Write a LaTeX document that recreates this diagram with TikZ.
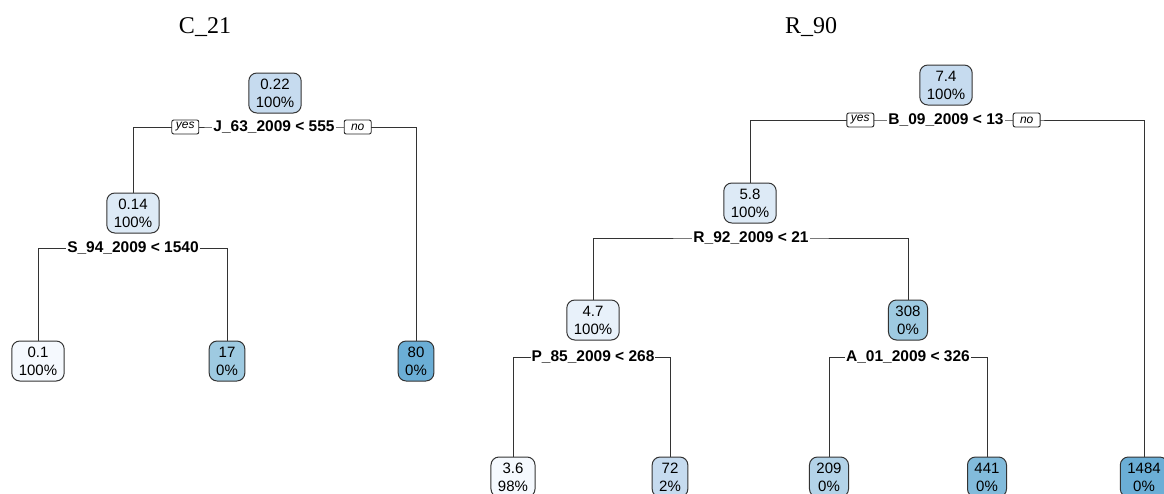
\documentclass[tikz,border=0pt]{standalone}
\usepackage{fontspec}
\setmainfont{Liberation Serif}
\newfontfamily\treefont{Liberation Sans}
\usetikzlibrary{positioning, backgrounds}

% rpart-like blues
\definecolor{bl0}{HTML}{F5F9FE}
\definecolor{bl1}{HTML}{E8F1FA}
\definecolor{bl2}{HTML}{DDEAF6}
\definecolor{bl3}{HTML}{C6DBEF}
\definecolor{bl4}{HTML}{B3D3E8}
\definecolor{bl5}{HTML}{9ECAE1}
\definecolor{bl6}{HTML}{82BBDB}
\definecolor{bl7}{HTML}{6BAED6}

\begin{document}
\begin{tikzpicture}[
  x=1pt, y=-1pt,
  tnode/.style={draw=black!80, line width=1pt, rounded corners=8pt,
                align=center, inner xsep=7pt, inner ysep=2pt,
                minimum height=40pt,
                font=\treefont\fontsize{15}{18}\selectfont},
  split/.style={fill=white, inner sep=1pt,
                font=\treefont\bfseries\fontsize{15.5}{18}\selectfont},
  yesno/.style={draw=black!85, line width=0.9pt, fill=white,
                rounded corners=2pt,
                minimum width=27pt, minimum height=14pt, inner sep=1pt,
                font=\treefont\itshape\fontsize{12}{13}\selectfont},
  edge/.style={draw=black!80, line width=0.8pt},
  ttl/.style={font=\fontsize{24}{28}\selectfont}
]
  \useasboundingbox (0,0) rectangle (1164,493);
  \clip (0,0) rectangle (1164,493);

  % Titles
  \node[ttl] (ttlC) at (205,27) {C\_21};
  \node[ttl] (ttlR) at (811,27) {R\_90};

  % Left tree (C_21)
  \node[tnode, fill=bl3] (a0) at (275,93)  {0.22\\100\%};
  \node[tnode, fill=bl2] (a1) at (133,213) {0.14\\100\%};
  \node[tnode, fill=bl0] (a2) at (38,361)  {0.1\\100\%};
  \node[tnode, fill=bl5] (a3) at (227,361) {17\\0\%};
  \node[tnode, fill=bl7] (a4) at (416,361) {80\\0\%};

  \node[split] (sa0) at (274,127) {J\_63\_2009 < 555};
  \node[yesno, left=13pt of sa0] (ya0) {yes};
  \node[yesno, right=8pt of sa0] (na0) {no};
  \node[split] (sa1) at (133,248) {S\_94\_2009 < 1540};

  % Right tree (R_90)
  \node[tnode, fill=bl3] (b0) at (946,85)   {7.4\\100\%};
  \node[tnode, fill=bl2] (b1) at (750,203)  {5.8\\100\%};
  \node[tnode, fill=bl1] (b2) at (593,320)  {4.7\\100\%};
  \node[tnode, fill=bl5] (b3) at (908,320)  {308\\0\%};
  \node[tnode, fill=bl0] (b4) at (513,477)  {3.6\\98\%};
  \node[tnode, fill=bl3] (b5) at (670,477)  {72\\2\%};
  \node[tnode, fill=bl4] (b6) at (829,477)  {209\\0\%};
  \node[tnode, fill=bl6] (b7) at (987,477)  {441\\0\%};
  \node[tnode, fill=bl7] (b8) at (1144,477) {1484\\0\%};

  \node[split] (sb0) at (946,120) {B\_09\_2009 < 13};
  \node[yesno, left=13pt of sb0] (yb0) {yes};
  \node[yesno, right=8pt of sb0] (nb0) {no};
  \node[split] (sb1) at (751,238) {R\_92\_2009 < 21};
  \node[split] (sb2) at (593,357) {P\_85\_2009 < 268};
  \node[split] (sb3) at (908,357) {A\_01\_2009 < 326};

  % Branches
  \begin{scope}[on background layer]
    \draw[edge] (a1.north) |- (sa0.center) -| (a4.north);
    \draw[edge] (a2.north) |- (sa1.center) -| (a3.north);
    \draw[edge] (b1.north) |- (sb0.center) -| (b8.north);
    \draw[edge] (b2.north) |- (sb1.center) -| (b3.north);
    \draw[edge] (b4.north) |- (sb2.center) -| (b5.north);
    \draw[edge] (b6.north) |- (sb3.center) -| (b7.north);
  \end{scope}
\end{tikzpicture}
\end{document}
